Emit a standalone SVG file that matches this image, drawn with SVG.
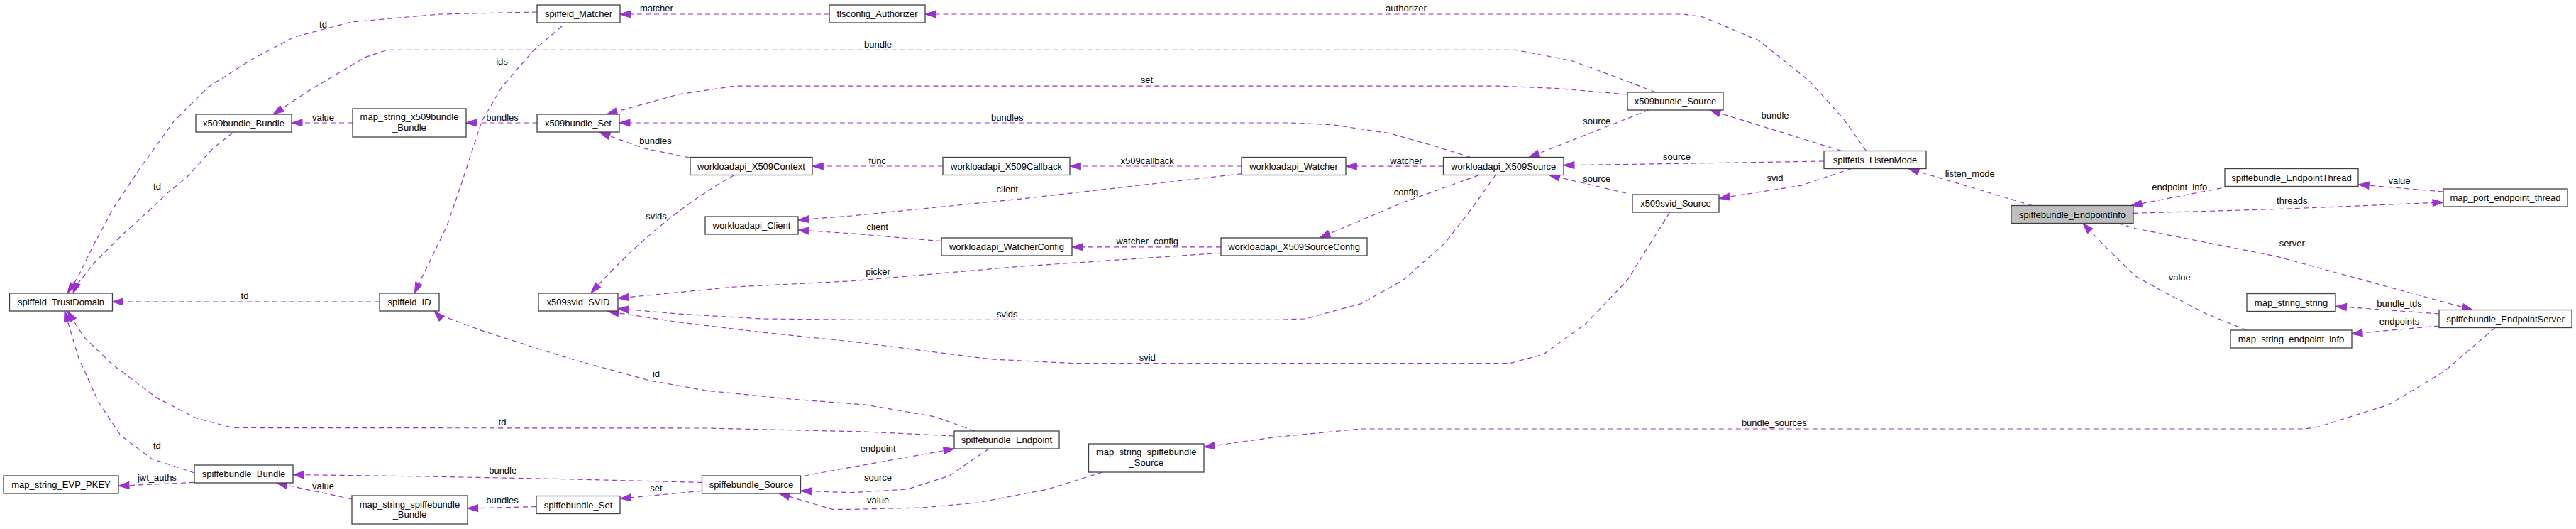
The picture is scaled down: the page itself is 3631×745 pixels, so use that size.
<svg xmlns="http://www.w3.org/2000/svg" width="3631" height="745" viewBox="0 0 3631 745">
<defs>
<style>
.n rect{fill:#ffffff;stroke:#404040;stroke-width:1.3}
.n.hl rect{fill:#bfbfbf}
text{font-family:"Liberation Sans",Arial,Helvetica,sans-serif;font-size:13px;text-anchor:middle;fill:#000000}
.e path{fill:none;stroke:#9a32cd;stroke-width:1.2;stroke-dasharray:7,5;marker-end:url(#ah)}
</style>
<marker id="ah" markerUnits="userSpaceOnUse" markerWidth="17" markerHeight="12" refX="15" refY="5" orient="auto" overflow="visible">
<path d="M0,0 L15,5 L0,10 z" fill="#9a32cd" stroke="#9a32cd" stroke-width="1" stroke-dasharray="none"/>
</marker>
</defs>
<rect width="3631" height="745" fill="#ffffff"/>
<g id="edges" class="e">
<path d="M757,17 L620,20 L495,31 L415,52 L356,83 L293,123 L245,171 L198,236 L160,293 L133,343 L110,390 L95,413"/>
<text x="455.5" y="38.5">td</text>
<path d="M2334,130 L2274,107 L2215,85.5 L2136,70.3 L545.7,70.3 L514,81 L474.5,104.5 L435,128 L385,161"/>
<text x="1237.6" y="66.7">bundle</text>
<path d="M328,187 L300,209 L263,250 L237,271 L213,294 L173,330 L133,370 L107,403 L103,413"/>
<text x="221.5" y="267">td</text>
<path d="M497,173 L411,173"/>
<text x="455.5" y="169.5">value</text>
<path d="M535,425 L158.5,425"/>
<text x="345" y="421">td</text>
<path d="M792,37 L752,71 L707,123 L679,171 L651,257 L630,318 L605,370 L590,400 L584.5,413"/>
<text x="707.5" y="91">ids</text>
<path d="M757.4,173 L656.5,173"/>
<text x="708" y="169.5">bundles</text>
<path d="M2294,133 L2195,124.5 L2116,121.2 L1035,121.2 L956,133 L855,161"/>
<text x="1616.4" y="117">set</text>
<path d="M2073,221.5 L2017.5,204.3 L1958,187.7 L1879,175.8 L1820,173 L873,173"/>
<text x="1419.8" y="169.5">bundles</text>
<path d="M972,222 L908,209 L845,186.5"/>
<text x="924" y="203">bundles</text>
<path d="M1329,234 L1145.3,234"/>
<text x="1236.8" y="230.7">func</text>
<path d="M1750,234 L1508.4,234"/>
<text x="1617.2" y="230.7">x509callback</text>
<path d="M1035,246.5 Q930,305 833,412.5"/>
<text x="925" y="308.5">svids</text>
<path d="M1750,244.7 L1437,280.3 L1200,304 L1125,309.8"/>
<text x="1419.8" y="270.5">client</text>
<path d="M1327,339.7 L1200,328.8 L1125,324"/>
<text x="1236.8" y="323.8">client</text>
<path d="M1721,347.8 L1511,347.8"/>
<text x="1617.2" y="343.7">watcher_config</text>
<path d="M1721,356.3 L1437,375.3 L1200,395.8 L1035,404 L871,420"/>
<text x="1237.6" y="387">picker</text>
<path d="M2034.5,234.2 L1897.3,234.2"/>
<text x="1982" y="230.7">watcher</text>
<path d="M2085,246.5 L1978,285 L1860,335"/>
<text x="1982" y="275.3">config</text>
<path d="M2108,246.5 L2075,293 L2037,342 L1978,394.4 L1918.6,427.6 L1839.5,449 L1800,450.4 L1220,450.4 L1074.5,449 L956,442 L871,434.7"/>
<text x="1419.8" y="446.8">svids</text>
<path d="M2353.6,299 L2294,394.4 L2235,456 L2175.6,499 L2128,511.7 L1516,511.7 L1398,506 L1200,481 L1074.5,468 L956,453.7 L857,438.5"/>
<text x="1617.2" y="507.7">svid</text>
<path d="M2324,155 L2155,221.5"/>
<text x="2250.8" y="175.1">source</text>
<path d="M2571,227 L2420,229.5 L2204,232.8"/>
<text x="2363.5" y="225">source</text>
<path d="M2292,272 L2183.5,246.5"/>
<text x="2250.8" y="255.5">source</text>
<path d="M2630.5,212.5 L2597.7,166.3 L2550.3,114 L2479,57 L2400,23.8 L2373,20 L1304,20"/>
<text x="1982" y="15.9">authorizer</text>
<path d="M2595.7,212.5 L2410,155"/>
<text x="2502" y="166.5">bundle</text>
<path d="M2609.6,237.5 L2538.4,261.3 L2423,279.4"/>
<text x="2502" y="254.9">svid</text>
<path d="M2864.6,289.5 L2690,237.5"/>
<text x="2776.8" y="249.2">listen_mode</text>
<path d="M3143.5,262.5 L3004,289.5"/>
<text x="3072.3" y="267.7">endpoint_info</text>
<path d="M3007,300.3 L3208.7,294.6 L3444,285"/>
<text x="3230.8" y="286.7">threads</text>
<path d="M3444,270 L3324.2,260"/>
<text x="3382" y="258.7">value</text>
<path d="M2985,314.5 L3011,322 L3208.7,361 L3485.5,436.5"/>
<text x="3230.8" y="347.1">server</text>
<path d="M3167,465 L3110,442 L3054.5,413.4 L3011,389.6 L2969.4,349.2 L2935.8,314.5"/>
<text x="3072.3" y="395">value</text>
<path d="M3438,442 L3292.5,431.4"/>
<text x="3382" y="432.1">bundle_tds</text>
<path d="M3438,459 L3315,470"/>
<text x="3382" y="456.8">endpoints</text>
<path d="M3517,461.5 L3446,522.6 L3367,570 L3268,601 L3248,604 L1918.6,604 L1800,615.3 L1697,629.5"/>
<text x="2500.8" y="599.8">bundle_sources</text>
<path d="M1374,607 L1318.6,587 L1220,570 L1114,562 L995,550 L916,536 L798,503.6 L679,465.6 L616,442 L612,438"/>
<text x="925" y="530.9">id</text>
<path d="M1345,614 L1220,608 L995,603 L328,602.5 L277,589 L221.4,560.6 L158,513 L118.6,475 L95,438"/>
<text x="708" y="598.9">td</text>
<path d="M274,666 L213.5,646 L170,613 L138.4,565.4 L110.7,503.6 L91,438"/>
<text x="221.4" y="631.7">td</text>
<path d="M274,679.4 L167,684.2"/>
<text x="221.4" y="677.3">jwt_auths</text>
<path d="M496,703 L389.5,680"/>
<text x="455.5" y="688.7">value</text>
<path d="M989.5,679.4 L797.7,674.7 L600,671 L413,668.5"/>
<text x="708.7" y="667.3">bundle</text>
<path d="M756,713.6 L658.5,716"/>
<text x="708" y="708.6">bundles</text>
<path d="M989.5,691.3 L874.4,702.2"/>
<text x="925" y="692">set</text>
<path d="M1133.8,670 L1200,658 L1345,632"/>
<text x="1237.6" y="635.9">endpoint</text>
<path d="M1393.8,632 L1338.4,669.9 L1279,689 L1200,693.7 L1128.5,691.3"/>
<text x="1237.6" y="677.3">source</text>
<path d="M1553.9,665 L1476.8,689 L1377.9,708 L1299,715 L1200,717.4 L1173.3,717.4 L1098.2,695"/>
<text x="1237.6" y="708.6">value</text>
<path d="M1169,20 L873.6,20"/>
<text x="925.4" y="15.9">matcher</text>
</g>
<g id="n_spiffeid_TrustDomain" class="n"><rect x="13.5" y="413" width="145" height="25"/><text x="86" y="430">spiffeid_TrustDomain</text></g>
<g id="n_x509bundle_Bundle" class="n"><rect x="276" y="161" width="135" height="25"/><text x="343.5" y="178">x509bundle_Bundle</text></g>
<g id="n_map_string_x509bundle_Bundle" class="n"><rect x="497" y="153" width="160" height="40"/><text x="577" y="169">map_string_x509bundle</text><text x="577" y="183.6">_Bundle</text></g>
<g id="n_spiffeid_ID" class="n"><rect x="535" y="413" width="84" height="25"/><text x="577" y="430">spiffeid_ID</text></g>
<g id="n_map_string_EVP_PKEY" class="n"><rect x="5" y="670" width="162" height="25"/><text x="86" y="687">map_string_EVP_PKEY</text></g>
<g id="n_spiffebundle_Bundle" class="n"><rect x="274" y="655" width="139" height="25"/><text x="343.5" y="672">spiffebundle_Bundle</text></g>
<g id="n_map_string_spiffebundle_Bundle" class="n"><rect x="496" y="698" width="163" height="40"/><text x="577.5" y="714.8">map_string_spiffebundle</text><text x="577.5" y="729">_Bundle</text></g>
<g id="n_spiffeid_Matcher" class="n"><rect x="757" y="7" width="117" height="25"/><text x="815.5" y="24">spiffeid_Matcher</text></g>
<g id="n_x509bundle_Set" class="n"><rect x="757" y="161" width="116" height="25"/><text x="815" y="178">x509bundle_Set</text></g>
<g id="n_workloadapi_X509Context" class="n"><rect x="973" y="221.5" width="172" height="25"/><text x="1059" y="238.5">workloadapi_X509Context</text></g>
<g id="n_workloadapi_Client" class="n"><rect x="994" y="305" width="131" height="25"/><text x="1059.5" y="322">workloadapi_Client</text></g>
<g id="n_x509svid_SVID" class="n"><rect x="759" y="413" width="112" height="25"/><text x="815" y="430">x509svid_SVID</text></g>
<g id="n_spiffebundle_Set" class="n"><rect x="756" y="698.5" width="118" height="25"/><text x="815" y="715.5">spiffebundle_Set</text></g>
<g id="n_spiffebundle_Source" class="n"><rect x="989.5" y="670" width="139" height="25"/><text x="1059" y="687">spiffebundle_Source</text></g>
<g id="n_tlsconfig_Authorizer" class="n"><rect x="1169" y="7" width="135" height="25"/><text x="1236.5" y="24">tlsconfig_Authorizer</text></g>
<g id="n_workloadapi_X509Callback" class="n"><rect x="1329" y="221.5" width="179" height="25"/><text x="1418.5" y="238.5">workloadapi_X509Callback</text></g>
<g id="n_workloadapi_WatcherConfig" class="n"><rect x="1327" y="335" width="184" height="25"/><text x="1419" y="352">workloadapi_WatcherConfig</text></g>
<g id="n_spiffebundle_Endpoint" class="n"><rect x="1345" y="607" width="148" height="25"/><text x="1419" y="624">spiffebundle_Endpoint</text></g>
<g id="n_map_string_spiffebundle_Source" class="n"><rect x="1534.5" y="625" width="162.5" height="40"/><text x="1615.75" y="641.2">map_string_spiffebundle</text><text x="1615.75" y="655.9">_Source</text></g>
<g id="n_workloadapi_Watcher" class="n"><rect x="1750" y="221.5" width="147" height="25"/><text x="1823.5" y="238.5">workloadapi_Watcher</text></g>
<g id="n_workloadapi_X509SourceConfig" class="n"><rect x="1721" y="335" width="206" height="25"/><text x="1824" y="352">workloadapi_X509SourceConfig</text></g>
<g id="n_workloadapi_X509Source" class="n"><rect x="2034.5" y="221.5" width="169.5" height="25"/><text x="2119.25" y="238.5">workloadapi_X509Source</text></g>
<g id="n_x509bundle_Source" class="n"><rect x="2294" y="130" width="135" height="25"/><text x="2361.5" y="147">x509bundle_Source</text></g>
<g id="n_x509svid_Source" class="n"><rect x="2301" y="274" width="122" height="25"/><text x="2362" y="291">x509svid_Source</text></g>
<g id="n_spiffetls_ListenMode" class="n"><rect x="2571" y="212.5" width="144" height="25"/><text x="2643" y="229.5">spiffetls_ListenMode</text></g>
<g id="n_spiffebundle_EndpointInfo" class="n hl"><rect x="2835" y="289.5" width="172" height="25"/><text x="2921" y="306.5">spiffebundle_EndpointInfo</text></g>
<g id="n_spiffebundle_EndpointThread" class="n"><rect x="3136" y="237.5" width="188" height="25"/><text x="3230" y="254.5">spiffebundle_EndpointThread</text></g>
<g id="n_map_port_endpoint_thread" class="n"><rect x="3444" y="266" width="175" height="25"/><text x="3531.5" y="283">map_port_endpoint_thread</text></g>
<g id="n_map_string_string" class="n"><rect x="3167" y="413.5" width="125" height="25"/><text x="3229.5" y="430.5">map_string_string</text></g>
<g id="n_spiffebundle_EndpointServer" class="n"><rect x="3438" y="436.5" width="187" height="25"/><text x="3531.5" y="453.5">spiffebundle_EndpointServer</text></g>
<g id="n_map_string_endpoint_info" class="n"><rect x="3144" y="465" width="171" height="25"/><text x="3229.5" y="482">map_string_endpoint_info</text></g>
</svg>
